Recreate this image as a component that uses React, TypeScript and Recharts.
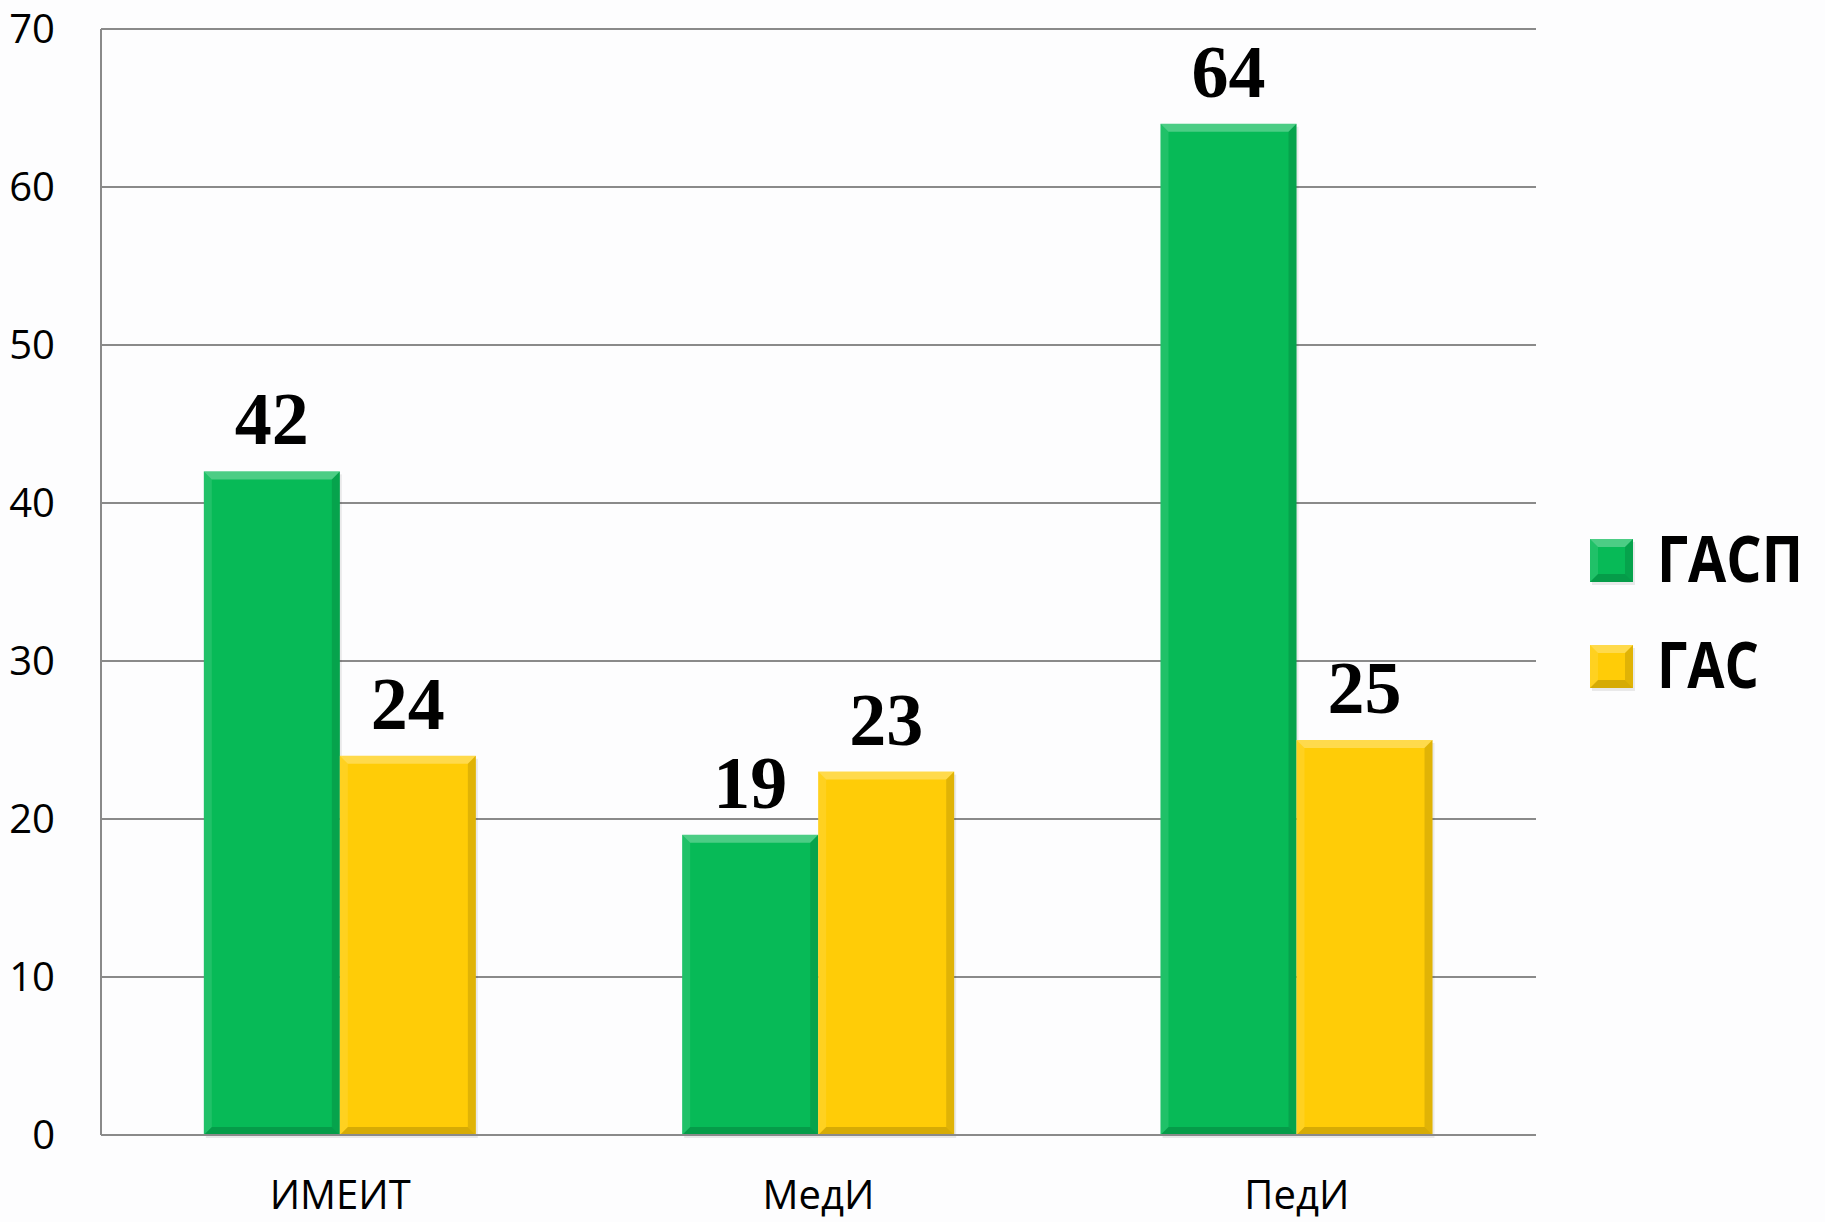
import { BarChart, Bar, XAxis, YAxis, CartesianGrid, LabelList } from 'recharts'

const categories = ['ИМЕИТ', 'МедИ', 'ПедИ']
const gaspValues = [42, 19, 64]
const gasValues = [24, 23, 25]
const yTicks = [0, 10, 20, 30, 40, 50, 60, 70]

const GREEN = '#07BA57'
const YELLOW = '#FFCC07'
const GRID = '#8a8a8a'

const data = categories.map((name, i) => ({ name, gasp: gaspValues[i], gas: gasValues[i] }))

const legendItems = [
  { label: 'ГАСП', color: GREEN, textWidth: 146 },
  { label: 'ГАС', color: YELLOW, textWidth: 102 },
]

// bar with a soft bevel, like the office-style chart
const BevelBar = (props: any) => {
  const { x, y, width: w, height: h, fill } = props
  if (!w || !h || h <= 0) return null
  const b = Math.min(8, h / 2, w / 2)
  return (
    <g>
      <rect x={x + 2} y={y + 3} width={w} height={h} fill="#000" opacity={0.08} />
      <rect x={x} y={y} width={w} height={h} fill={fill} />
      <polygon points={`${x},${y} ${x + w},${y} ${x + w - b},${y + b} ${x + b},${y + b}`} fill="#fff" opacity={0.28} />
      <polygon points={`${x},${y} ${x + b},${y + b} ${x + b},${y + h - b} ${x},${y + h}`} fill="#fff" opacity={0.1} />
      <polygon points={`${x + w},${y} ${x + w},${y + h} ${x + w - b},${y + h - b} ${x + w - b},${y + b}`} fill="#000" opacity={0.12} />
      <polygon points={`${x},${y + h} ${x + b},${y + h - b} ${x + w - b},${y + h - b} ${x + w},${y + h}`} fill="#000" opacity={0.16} />
    </g>
  )
}

const LegendBox = () => (
  <div style={{ position: 'absolute', left: 1590, top: 509, display: 'flex', flexDirection: 'column', gap: 26 }}>
    {legendItems.map(it => (
      <svg key={it.label} width={232} height={80} style={{ display: 'block', overflow: 'visible' }}>
        <BevelBar x={0} y={30} width={43} height={43} fill={it.color} />
        <text
          x={67}
          y={73}
          fontFamily="'Open Sans', sans-serif"
          fontWeight={700}
          fontSize={65}
          textLength={it.textWidth}
          lengthAdjust="spacingAndGlyphs"
          fill="#000"
        >
          {it.label}
        </text>
      </svg>
    ))}
  </div>
)

export default function App() {
  return (
    <div style={{ position: 'absolute', left: 0, top: 0, width: 1825, height: 1222, background: '#fdfdfe' }}>
      <BarChart
        width={1825}
        height={1222}
        data={data}
        margin={{ top: 29, right: 289, left: 0, bottom: 0 }}
        barCategoryGap="21.5%"
        barGap={0}
      >
        <CartesianGrid vertical={false} stroke={GRID} strokeWidth={2} />
        <XAxis
          dataKey="name"
          height={87}
          axisLine={{ stroke: GRID, strokeWidth: 2 }}
          tickLine={false}
          tickSize={6}
          tickMargin={40}
          tick={{ fill: '#000', fontSize: 40, fontFamily: "'Open Sans', sans-serif" }}
        />
        <YAxis
          width={101}
          domain={[0, 70]}
          ticks={yTicks}
          interval={0}
          axisLine={{ stroke: GRID, strokeWidth: 2 }}
          tickLine={false}
          tickSize={6}
          tickMargin={40}
          tick={{ fill: '#000', fontSize: 40, fontFamily: "'Open Sans', sans-serif" }}
        />
        <Bar dataKey="gasp" name="ГАСП" fill={GREEN} shape={<BevelBar />} isAnimationActive={false}>
          <LabelList
            dataKey="gasp"
            position="top"
            offset={27}
            fill="#000"
            fontSize={74}
            fontWeight={700}
            fontFamily="'Liberation Serif', 'Times New Roman', serif"
          />
        </Bar>
        <Bar dataKey="gas" name="ГАС" fill={YELLOW} shape={<BevelBar />} isAnimationActive={false}>
          <LabelList
            dataKey="gas"
            position="top"
            offset={27}
            fill="#000"
            fontSize={74}
            fontWeight={700}
            fontFamily="'Liberation Serif', 'Times New Roman', serif"
          />
        </Bar>
      </BarChart>
      <LegendBox />
    </div>
  )
}
